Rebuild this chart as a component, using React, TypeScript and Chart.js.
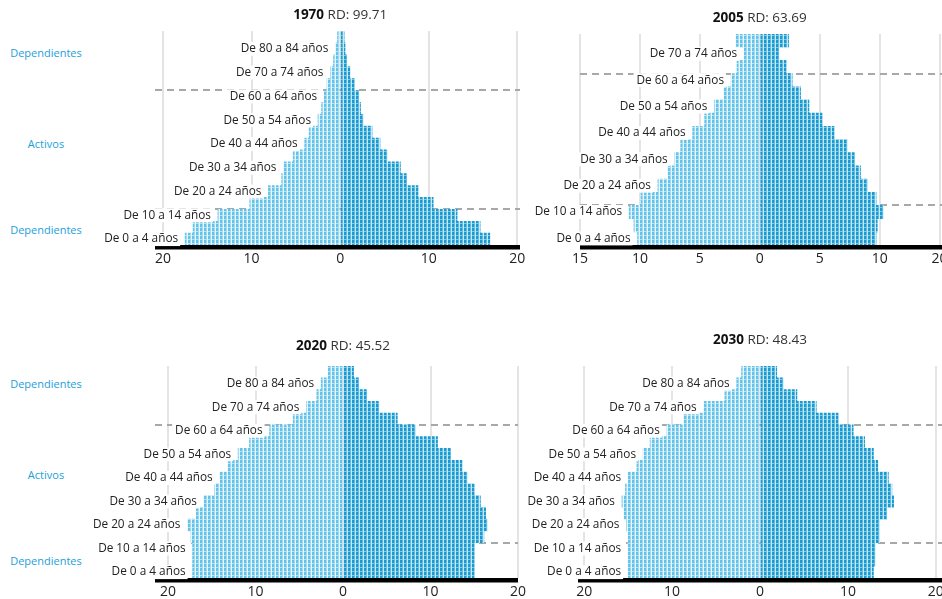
import React, { useEffect, useRef } from 'react';
import { Chart, registerables } from 'chart.js';

Chart.register(...registerables);

const FONT = "'Open Sans', 'Noto Sans', sans-serif";

// Age groups (youngest first)
const ages18 = [
  'De 0 a 4 años', 'De 5 a 9 años', 'De 10 a 14 años', 'De 15 a 19 años', 'De 20 a 24 años',
  'De 25 a 29 años', 'De 30 a 34 años', 'De 35 a 39 años', 'De 40 a 44 años', 'De 45 a 49 años',
  'De 50 a 54 años', 'De 55 a 59 años', 'De 60 a 64 años', 'De 65 a 69 años', 'De 70 a 74 años',
  'De 75 a 79 años', 'De 80 a 84 años', '85 y más',
];
const ages16 = [
  'De 0 a 4 años', 'De 5 a 9 años', 'De 10 a 14 años', 'De 15 a 19 años', 'De 20 a 24 años',
  'De 25 a 29 años', 'De 30 a 34 años', 'De 35 a 39 años', 'De 40 a 44 años', 'De 45 a 49 años',
  'De 50 a 54 años', 'De 55 a 59 años', 'De 60 a 64 años', 'De 65 a 69 años', 'De 70 a 74 años',
  '75 y más',
];

// Percent of population, left half and right half of each pyramid
const left1970 = [17.5, 16.6, 13.8, 10.2, 8.1, 6.6, 6.4, 5.3, 4.0, 3.5, 2.5, 2.1, 1.8, 1.5, 1.1, 0.75, 0.55, 0.3];
const right1970 = [16.9, 15.8, 13.2, 10.5, 8.8, 7.5, 6.8, 5.3, 4.5, 3.6, 2.6, 2.3, 2.1, 1.6, 1.1, 0.75, 0.55, 0.45];

const left2005 = [10.2, 10.5, 10.9, 9.9, 8.5, 7.7, 7.1, 6.6, 5.6, 4.6, 3.8, 3.0, 2.4, 1.9, 1.3, 2.0];
const right2005 = [9.7, 9.8, 10.3, 9.7, 9.0, 8.4, 7.9, 7.3, 6.2, 5.2, 4.1, 3.4, 2.7, 2.2, 1.6, 2.4];

const left2020 = [17.2, 17.2, 17.2, 17.4, 17.8, 16.8, 15.9, 14.7, 14.1, 13.2, 12.0, 10.7, 8.4, 5.7, 4.2, 3.0, 2.5, 1.7];
const right2020 = [15.0, 15.0, 15.0, 16.1, 16.5, 16.3, 15.7, 15.0, 14.2, 13.6, 12.3, 10.8, 8.3, 6.2, 4.1, 2.7, 1.8, 1.2];

const left2030 = [15.0, 15.0, 15.0, 15.0, 15.2, 15.5, 15.7, 15.3, 15.0, 14.0, 13.3, 12.5, 10.6, 8.7, 6.4, 4.0, 2.65, 2.1];
const right2030 = [12.9, 13.1, 13.1, 13.6, 13.6, 14.4, 15.2, 15.0, 14.6, 13.4, 12.9, 11.9, 10.6, 8.9, 6.4, 4.2, 2.65, 1.9];

// Axis ticks
const ticks20 = [-20, -10, 0, 10, 20];
const tickLabels20 = ['20', '10', '0', '10', '20'];
const ticks2005 = [-15, -10, -5, 0, 5, 10, 15];
const tickLabels2005 = ['15', '10', '5', '0', '5', '10', '20'];

// Boundaries (after these category indices) of the dependent / active groups
const groupBreaks = [2, 12];

const years = ['1970', '2005', '2020', '2030'];
const rdTexts = ['RD: 99.71', 'RD: 63.69', 'RD: 45.52', 'RD: 48.43'];

const sideLabels = ['Dependientes', 'Activos', 'Dependientes', 'Dependientes', 'Activos', 'Dependientes'];

const W = 942;
const H = 599;
const AXIS_H = 20;

type Panel = {
  year: string;
  rd: string;
  cats: string[];
  left: number[];
  right: number[];
  min: number;
  max: number;
  ticks: number[];
  tickLabels: string[];
  area: { l: number; r: number; t: number; b: number };
  titleY: number;
};

const panels: Panel[] = [
  { year: years[0], rd: rdTexts[0], cats: ages18, left: left1970, right: right1970, min: -20.9, max: 20.3,
    ticks: ticks20, tickLabels: tickLabels20, area: { l: 155, r: 520, t: 31, b: 245 }, titleY: 15 },
  { year: years[1], rd: rdTexts[1], cats: ages16, left: left2005, right: right2005, min: -15, max: 15.2,
    ticks: ticks2005, tickLabels: tickLabels2005, area: { l: 580, r: 942, t: 34, b: 245 }, titleY: 18 },
  { year: years[2], rd: rdTexts[2], cats: ages18, left: left2020, right: right2020, min: -21.5, max: 20,
    ticks: ticks20, tickLabels: tickLabels20, area: { l: 155, r: 518, t: 366, b: 578 }, titleY: 346 },
  { year: years[3], rd: rdTexts[3], cats: ages18, left: left2030, right: right2030, min: -20.7, max: 20.7,
    ticks: ticks20, tickLabels: tickLabels20, area: { l: 578, r: 942, t: 366, b: 578 }, titleY: 340 },
];

function makePattern(colors: string[]): CanvasPattern | string {
  const tile = document.createElement('canvas');
  tile.width = 4;
  tile.height = 4;
  const c = tile.getContext('2d');
  if (!c) return colors[0];
  // colors: [main, mid, gap, band]
  c.fillStyle = colors[2];
  c.fillRect(0, 0, 4, 4);
  c.fillStyle = colors[0];
  c.fillRect(0, 0, 2, 4);
  c.fillStyle = colors[1];
  c.fillRect(2, 0, 1, 4);
  c.fillStyle = colors[3];
  c.fillRect(0, 3, 3, 1);
  const p = c.createPattern(tile, 'repeat');
  return p || colors[0];
}

function makePlugin(panel: Panel) {
  return {
    id: 'pyramidDecor' + panel.year,
    beforeDatasetsDraw(chart: any) {
      const { ctx, chartArea } = chart;
      const y = chart.scales.y;
      ctx.save();
      ctx.strokeStyle = '#a8a8a8';
      ctx.lineWidth = 2;
      ctx.setLineDash([7, 5]);
      groupBreaks.forEach((i) => {
        const py = Math.round((y.getPixelForValue(i) + y.getPixelForValue(i + 1)) / 2);
        ctx.beginPath();
        ctx.moveTo(chartArea.left, py);
        ctx.lineTo(chartArea.right, py);
        ctx.stroke();
      });
      ctx.restore();
    },
    afterDatasetsDraw(chart: any) {
      const { ctx, chartArea } = chart;
      const x = chart.scales.x;
      const y = chart.scales.y;
      ctx.save();
      // heavy baseline
      ctx.fillStyle = '#000';
      ctx.fillRect(chartArea.left, chartArea.bottom, chartArea.right - chartArea.left, 4.5);

      // age labels on every other row
      ctx.font = `11.8px ${FONT}`;
      ctx.textBaseline = 'middle';
      ctx.textAlign = 'right';
      panel.cats.forEach((label, i) => {
        if (i % 2 !== 0) return;
        const px = x.getPixelForValue(-panel.left[i]) - 7;
        const py = y.getPixelForValue(i);
        const w = ctx.measureText(label).width;
        ctx.fillStyle = '#fff';
        ctx.fillRect(px - w - 3, py - 7, w + 5, 14);
        ctx.fillStyle = '#222';
        ctx.fillText(label, px, py);
      });

      // title
      const cx = x.getPixelForValue(0);
      ctx.textAlign = 'left';
      ctx.font = `bold 13.5px ${FONT}`;
      const w1 = ctx.measureText(panel.year).width;
      ctx.font = `13.5px ${FONT}`;
      const w2 = ctx.measureText(' ' + panel.rd).width;
      const sx = cx - (w1 + w2) / 2;
      ctx.fillStyle = '#111';
      ctx.font = `bold 13.5px ${FONT}`;
      ctx.fillText(panel.year, sx, panel.titleY);
      ctx.font = `13.5px ${FONT}`;
      ctx.fillStyle = '#333';
      ctx.fillText(' ' + panel.rd, sx + w1, panel.titleY);
      ctx.restore();
    },
  };
}

function PyramidCanvas({ panel }: { panel: Panel }) {
  const ref = useRef<HTMLCanvasElement | null>(null);
  useEffect(() => {
    const canvas = ref.current;
    if (!canvas) return;
    const leftFill = makePattern(['#62c4ea', '#9dd9f1', '#eaf8fd', '#b5e3f4']);
    const rightFill = makePattern(['#1c99cf', '#5bbae2', '#c8eaf7', '#7cc8e8']);
    const a = panel.area;
    const chart = new Chart(canvas, {
      type: 'bar',
      data: {
        labels: panel.cats,
        datasets: [
          { data: panel.left.map((v) => -v), backgroundColor: leftFill as any, borderWidth: 0,
            barPercentage: 1, categoryPercentage: 1 },
          { data: panel.right, backgroundColor: rightFill as any, borderWidth: 0,
            barPercentage: 1, categoryPercentage: 1 },
        ],
      },
      options: {
        indexAxis: 'y',
        animation: false,
        responsive: false,
        maintainAspectRatio: false,
        events: [],
        layout: { padding: { left: a.l, right: W - a.r, top: a.t, bottom: H - a.b - AXIS_H } },
        plugins: { legend: { display: false }, tooltip: { enabled: false }, title: { display: false } },
        scales: {
          x: {
            type: 'linear',
            stacked: true,
            min: panel.min,
            max: panel.max,
            afterBuildTicks: (scale: any) => {
              scale.ticks = panel.ticks.map((v) => ({ value: v }));
            },
            afterFit: (scale: any) => {
              scale.height = AXIS_H;
              scale.paddingLeft = 0;
              scale.paddingRight = 0;
            },
            ticks: {
              autoSkip: false,
              maxRotation: 0,
              padding: 6,
              color: '#222',
              font: { family: FONT, size: 14 },
              callback: (_v: any, i: number) => panel.tickLabels[i],
            },
            grid: { color: '#e4e4e4', lineWidth: 2, drawTicks: false },
            border: { display: false },
          },
          y: {
            type: 'category',
            stacked: true,
            reverse: true,
            display: false,
            grid: { display: false },
          },
        },
      },
      plugins: [makePlugin(panel)],
    } as any);
    return () => chart.destroy();
  }, [panel]);
  return (
    <canvas
      ref={ref}
      width={W}
      height={H}
      style={{ position: 'absolute', left: 0, top: 0, width: W, height: H }}
    />
  );
}

const sideLabelYs = [53, 144, 230, 384, 475, 561];

export default function App() {
  return (
    <div style={{ position: 'absolute', left: 0, top: 0, width: W, height: H, background: '#fff', overflow: 'hidden' }}>
      {sideLabels.map((t, i) => (
        <div
          key={i}
          style={{
            position: 'absolute',
            left: 0,
            width: 92,
            top: sideLabelYs[i] - 9,
            height: 18,
            lineHeight: '18px',
            textAlign: 'center',
            color: '#1ba0da',
            fontFamily: FONT,
            fontSize: 11,
          }}
        >
          {t}
        </div>
      ))}
      {panels.map((p) => (
        <PyramidCanvas key={p.year} panel={p} />
      ))}
    </div>
  );
}
